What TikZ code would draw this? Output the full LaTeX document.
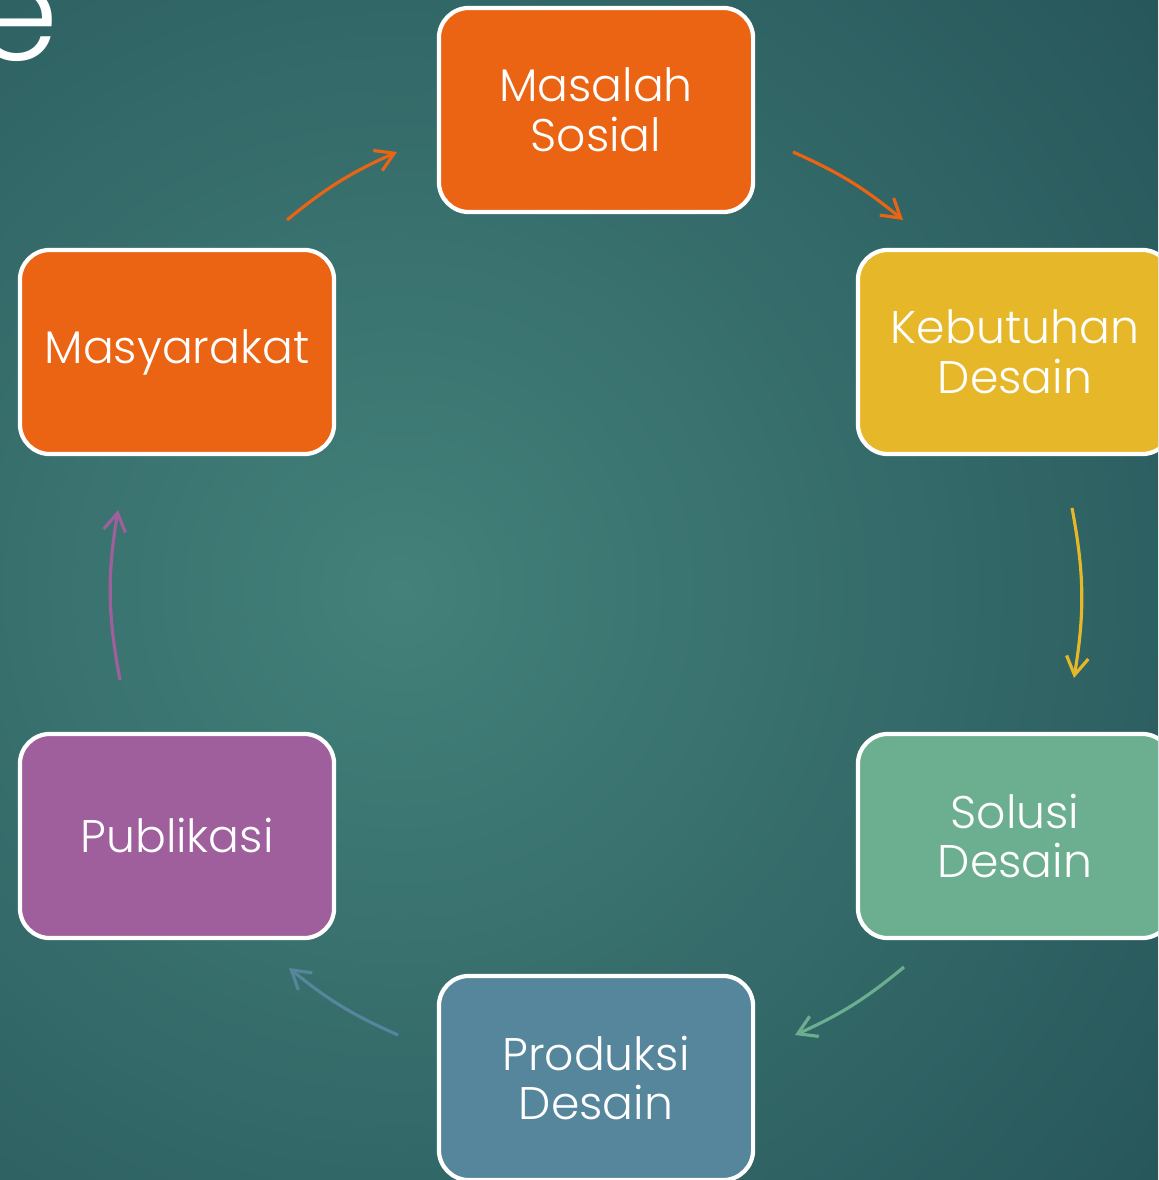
\documentclass[tikz,border=0pt]{standalone}
\usepackage{fontspec}
\setmainfont{Poppins}[UprightFont=* Light]
\usetikzlibrary{arrows.meta}

\definecolor{bgInner}{HTML}{43817A}
\definecolor{bgOuter}{HTML}{19414B}
\definecolor{cOrange}{HTML}{EA6414}
\definecolor{cYellow}{HTML}{E6B729}
\definecolor{cGreen}{HTML}{6BAE90}
\definecolor{cBlue}{HTML}{55869C}
\definecolor{cPurple}{HTML}{9E5F9C}

\begin{document}
\begin{tikzpicture}[x=0.01cm,y=-0.01cm,
    stage/.style={draw=white,line width=1.2pt,rounded corners=0.3cm,
        minimum width=3.14cm,minimum height=2.04cm,text=white,align=center,
        font=\fontsize{13}{14.2}\selectfont},
    flow/.style={line width=0.9pt,-{Straight Barb[length=1.8mm,width=2.2mm]}}]

    \useasboundingbox (0,0) rectangle (1158,1180);
    \clip (0,0) rectangle (1158,1180);

    % background
    \fill[bgOuter] (0,0) rectangle (1158,1180);
    \shade[inner color=bgInner,outer color=bgOuter] (400,590) circle (1450);

    \node[text=white,inner sep=0pt,anchor=base,font=\fontsize{39}{42}\selectfont] (title) at (16,61) {e};

    \node[stage,fill=cOrange] (masalah) at (596,110) {Masalah\\Sosial};
    \node[stage,fill=cYellow] (kebutuhan) at (1015,352) {Kebutuhan\\Desain};
    \node[stage,fill=cGreen] (solusi) at (1015,836) {Solusi\\Desain};
    \node[stage,fill=cBlue] (produksi) at (596,1078) {Produksi\\Desain};
    \node[stage,fill=cPurple] (publikasi) at (177,836) {Publikasi};
    \node[stage,fill=cOrange] (masyarakat) at (177,352) {Masyarakat};

    % arrow ends
    \coordinate (a1) at (287,220);
    \coordinate (b1) at (397,152);
    \coordinate (a2) at (793,152);
    \coordinate (b2) at (903,220);
    \coordinate (a3) at (1072,508);
    \coordinate (b3) at (1074,678);
    \coordinate (a4) at (904,967);
    \coordinate (b4) at (795,1035);
    \coordinate (a5) at (398,1035);
    \coordinate (b5) at (289,968);
    \coordinate (a6) at (120,680);
    \coordinate (b6) at (118,510);

\draw[flow,cOrange] (a1) to[bend left=7.7] (b1);
\draw[flow,cOrange] (a2) to[bend left=7.7] (b2);
\draw[flow,cYellow] (a3) to[bend left=10] (b3);
\draw[flow,cGreen] (a4) to[bend left=7.7] (b4);
\draw[flow,cBlue] (a5) to[bend left=7.7] (b5);
\draw[flow,cPurple] (a6) to[bend left=10] (b6);

\end{tikzpicture}
\end{document}
